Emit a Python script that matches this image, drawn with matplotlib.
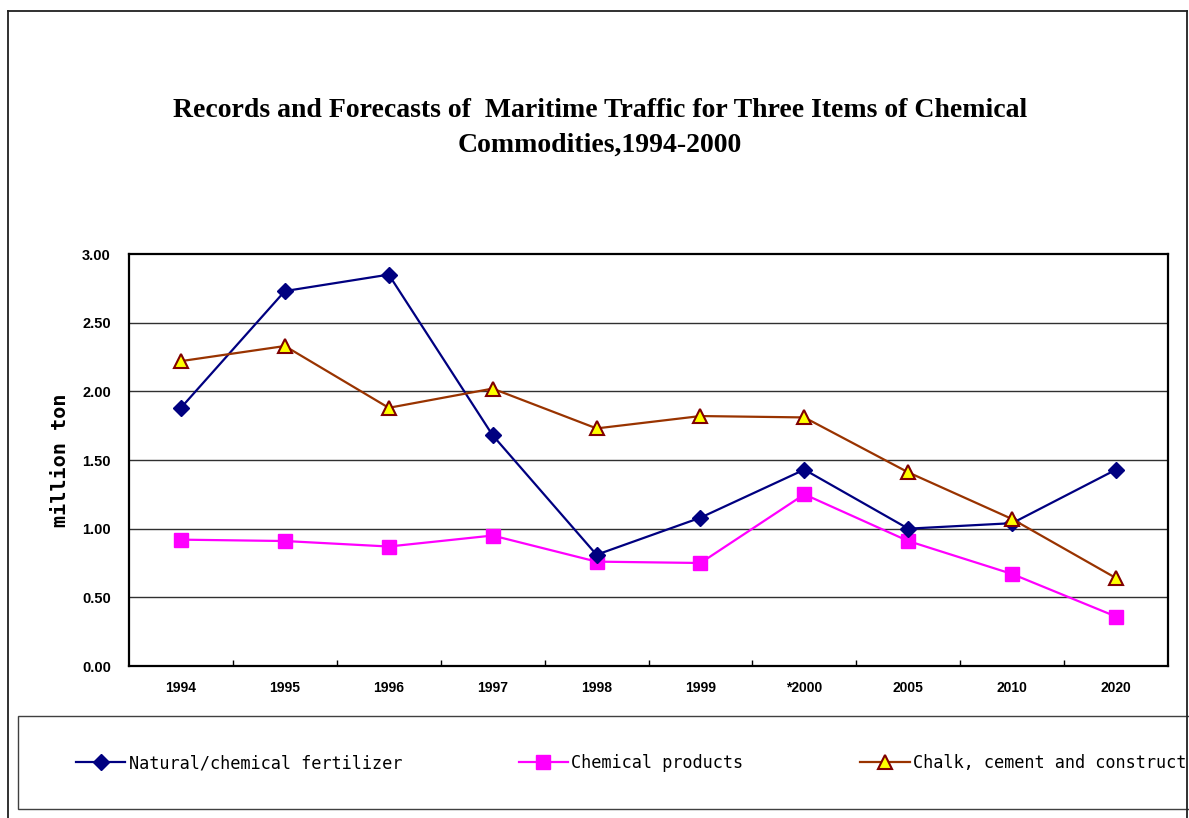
import matplotlib
matplotlib.use("Agg")
import matplotlib.pyplot as plt
from matplotlib.patches import Rectangle
from matplotlib.lines import Line2D
import numpy as np

# Data
years = ["1994", "1995", "1996", "1997", "1998", "1999", "*2000", "2005", "2010", "2020"]
fertilizer = [1.88, 2.73, 2.85, 1.68, 0.81, 1.08, 1.43, 1.00, 1.04, 1.43]
chemical_products = [0.92, 0.91, 0.87, 0.95, 0.76, 0.75, 1.25, 0.91, 0.67, 0.36]
chalk_cement = [2.22, 2.33, 1.88, 2.02, 1.73, 1.82, 1.81, 1.41, 1.07, 0.64]
series_names = ["Natural/chemical fertilizer", "Chemical products",
                "Chalk, cement and construct"]
y_ticks = [0.0, 0.5, 1.0, 1.5, 2.0, 2.5, 3.0]

W, H = 1189, 818
fig = plt.figure(figsize=(W / 100, H / 100), dpi=100)

def fx(px):
    return px / W

def fy(py):
    return 1 - py / H

# Outer chart border
for xs, ys in [([fx(8), fx(8)], [fy(11), -0.05]),
               ([fx(8), fx(1187)], [fy(11), fy(11)]),
               ([fx(1187), fx(1187)], [fy(11), -0.05])]:
    fig.add_artist(Line2D(xs, ys, color="#202020", lw=1.3, transform=fig.transFigure))

ax = fig.add_axes([fx(129), fy(666), fx(1168) - fx(129), fy(254) - fy(666)])
x = np.arange(len(years))

ax.set_ylim(0, 3.0)
ax.set_xlim(-0.5, len(years) - 0.5)
ax.set_yticks(y_ticks)
ax.set_yticklabels([f"{v:.2f}" for v in y_ticks], fontfamily="Liberation Sans",
                   fontweight="bold", fontsize=10.5)
ax.set_xticks(x)
ax.set_xticklabels(years, fontfamily="Liberation Sans", fontweight="bold", fontsize=10)
ax.set_xticks(np.arange(0.5, len(years) - 1, 1.0), minor=True)
ax.tick_params(axis="x", which="major", length=0, pad=11)
ax.tick_params(axis="x", which="minor", direction="in", length=4, width=1, color="black")
ax.tick_params(axis="y", length=0, pad=13)

for v in y_ticks[1:-1]:
    ax.axhline(v, color="#303030", lw=1.0, zorder=1)

for s in ax.spines.values():
    s.set_linewidth(1.6)
    s.set_color("black")

l1, = ax.plot(x, fertilizer, color="#000080", lw=1.6, marker="D", markersize=8.5,
              markerfacecolor="#000080", markeredgecolor="#000080", zorder=4,
              label=series_names[0])
l2, = ax.plot(x, chemical_products, color="#FF00FF", lw=1.6, marker="s", markersize=10,
              markerfacecolor="#FF00FF", markeredgecolor="#FF00FF", zorder=3,
              label=series_names[1])
l3, = ax.plot(x, chalk_cement, color="#993300", lw=1.6, marker="^", markersize=10.5,
              markerfacecolor="#FFFF00", markeredgecolor="#800000", markeredgewidth=1.5,
              zorder=5, label=series_names[2])

fig.text(fx(60), fy(460), "million ton", rotation=90, ha="center", va="center",
         fontfamily="DejaVu Sans Mono", fontweight="bold", fontsize=14.5)

fig.text(fx(600), fy(128), "Records and Forecasts of  Maritime Traffic for Three Items of Chemical\nCommodities,1994-2000",
         ha="center", va="center", fontfamily="Liberation Serif", fontweight="bold",
         fontsize=20, linespacing=1.5)

# Legend panel
fig.add_artist(Rectangle((fx(18), fy(809)), 1.05 - fx(18), fy(716) - fy(809),
                         transform=fig.transFigure, facecolor="white",
                         edgecolor="#404040", lw=1.0))
fig.legend(handles=[l1, l2, l3], loc="center left", bbox_to_anchor=(fx(76), fy(763)),
           ncol=3, frameon=False, borderpad=0, borderaxespad=0,
           handlelength=2.9, handletextpad=0.2, columnspacing=6.9,
           prop={"family": "DejaVu Sans Mono", "size": 12.2})

fig.savefig("out.png", dpi=100)
